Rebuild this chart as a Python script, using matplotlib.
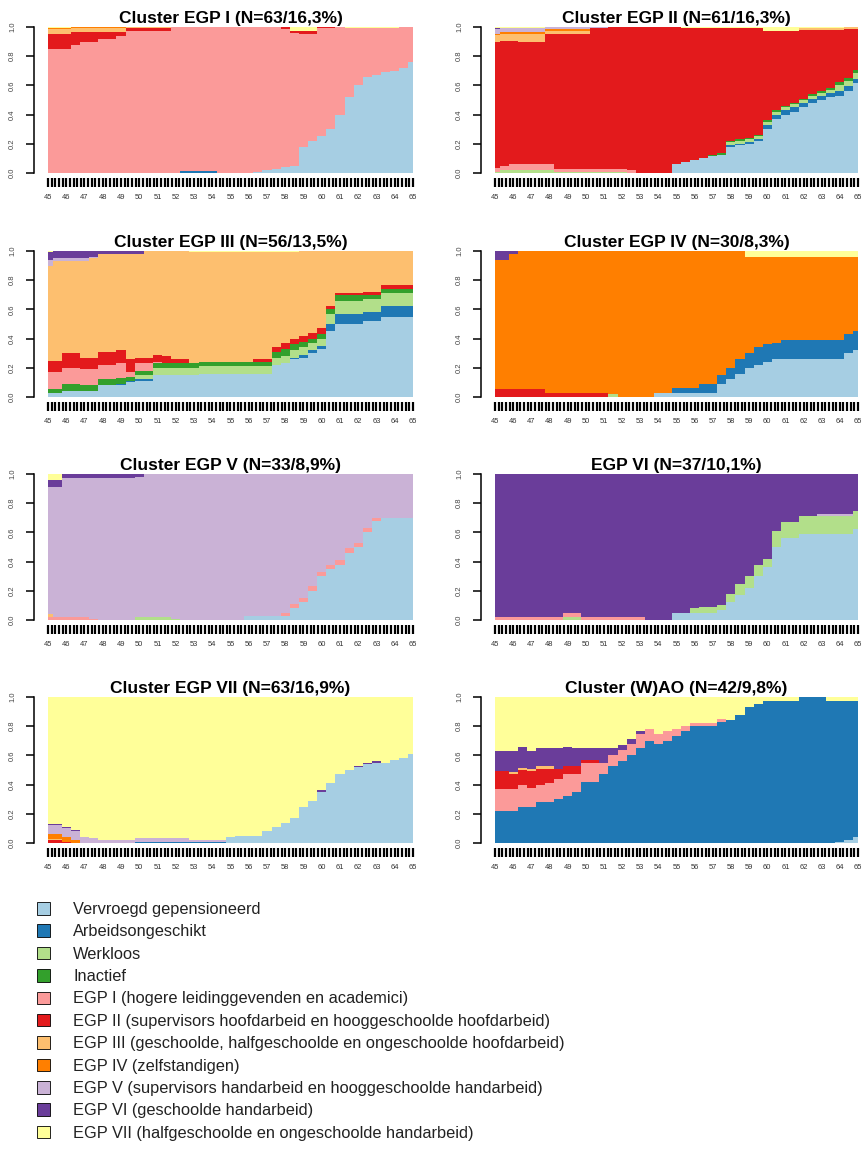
import numpy as np
import matplotlib.pyplot as plt
from matplotlib.patches import Patch

plt.rcParams["font.family"] = ["Liberation Sans", "DejaVu Sans"]

# half-year steps from age 45 to 65
ages = np.arange(45, 65.5, 0.5)
year_labels = [str(a) for a in range(45, 66)]

states = ["vv", "ao", "wk", "ina", "egp1", "egp2", "egp3", "egp4", "egp5", "egp6", "egp7"]
state_labels = [
    "Vervroegd gepensioneerd",
    "Arbeidsongeschikt",
    "Werkloos",
    "Inactief",
    "EGP I (hogere leidinggevenden en academici)",
    "EGP II (supervisors hoofdarbeid en hooggeschoolde hoofdarbeid)",
    "EGP III (geschoolde, halfgeschoolde en ongeschoolde hoofdarbeid)",
    "EGP IV (zelfstandigen)",
    "EGP V (supervisors handarbeid en hooggeschoolde handarbeid)",
    "EGP VI (geschoolde handarbeid)",
    "EGP VII (halfgeschoolde en ongeschoolde handarbeid)",
]
state_colors = ["#A6CEE3", "#1F78B4", "#B2DF8A", "#33A02C", "#FB9A99", "#E31A1C",
                "#FDBF6F", "#FF7F00", "#CAB2D6", "#6A3D9A", "#FFFF99"]

titles = [
    "Cluster EGP I (N=63/16,3%)",
    "Cluster EGP II (N=61/16,3%)",
    "Cluster EGP III (N=56/13,5%)",
    "Cluster EGP IV (N=30/8,3%)",
    "Cluster EGP V (N=33/8,9%)",
    "EGP VI (N=37/10,1%)",
    "Cluster EGP VII (N=63/16,9%)",
    "Cluster (W)AO (N=42/9,8%)",
]

# state shares per half year, states not listed are 0
cl_egp1 = {
    "vv": [0, 0, 0, 0, 0, 0, 0, 0, 0, 0,
           0, 0, 0, 0, 0, 0, 0, 0, 0, 0,
           0, 0, 0, .01, .02, .03, .04, .05, .18, .22,
           .25, .30, .40, .52, .60, .66, .67, .69, .70, .72,
           .76],
    "ao": [0, 0, 0, 0, 0, 0, 0, 0, 0, 0,
           0, 0, 0, 0, 0, .016, .016, .016, .016, 0,
           0, 0, 0, 0, 0, 0, 0, 0, 0, 0,
           0, 0, 0, 0, 0, 0, 0, 0, 0, 0,
           0],
    "egp1": [.85, .85, .85, .875, .895, .895, .915, .915, .935, .97,
             .97, .97, .97, .97, 1, .984, .984, .984, .984, 1,
             1, 1, 1, .99, .98, .97, .945, .91, .775, .735,
             .74, .69, .60, .47, .39, .33, .32, .30, .29, .28,
             .24],
    "egp2": [.10, .10, .10, .09, .07, .07, .05, .05, .03, .02,
             .02, .02, .02, .02, 0, 0, 0, 0, 0, 0,
             0, 0, 0, 0, 0, 0, .015, .015, .02, .02,
             .01, .01, 0, 0, 0, 0, 0, 0, 0, 0,
             0],
    "egp3": [.035, .035, .035, .025, .025, .025, .025, .025, .025, .01,
             .01, .01, .01, .01, 0, 0, 0, 0, 0, 0,
             0, 0, 0, 0, 0, 0, 0, 0, 0, 0,
             0, 0, 0, 0, 0, 0, 0, 0, 0, 0,
             0],
    "egp4": [.01, .01, .01, .01, .01, .01, .01, .01, .01, 0,
             0, 0, 0, 0, 0, 0, 0, 0, 0, 0,
             0, 0, 0, 0, 0, 0, 0, 0, 0, 0,
             0, 0, 0, 0, 0, 0, 0, 0, 0, 0,
             0],
    "egp7": [.005, .005, .005, 0, 0, 0, 0, 0, 0, 0,
             0, 0, 0, 0, 0, 0, 0, 0, 0, 0,
             0, 0, 0, 0, 0, 0, 0, .025, .025, .025,
             0, 0, 0, .01, .01, .01, .01, .01, .01, 0,
             0],
}

cl_egp2 = {
    "vv": [0, 0, 0, 0, 0, 0, 0, 0, 0, 0,
           0, 0, 0, 0, 0, 0, 0, 0, 0, 0,
           .065, .075, .09, .10, .115, .125, .18, .19, .20, .22,
           .30, .37, .40, .42, .45, .48, .50, .52, .53, .56,
           .61],
    "ao": [0, 0, 0, 0, 0, 0, 0, 0, 0, 0,
           0, 0, 0, 0, 0, 0, 0, 0, 0, 0,
           0, 0, 0, 0, 0, 0, .01, .01, .01, .01,
           .03, .03, .03, .03, .03, .03, .03, .03, .03, .03,
           .03],
    "wk": [.01, .02, .02, .02, .02, .02, .02, .01, .01, .01,
           .01, .01, .01, .01, .01, 0, 0, 0, 0, 0,
           0, 0, 0, 0, 0, 0, .02, .02, .02, .02,
           .02, .02, .02, .02, .02, .02, .02, .02, .04, .04,
           .04],
    "ina": [0, 0, 0, 0, 0, 0, 0, 0, 0, 0,
            0, 0, 0, 0, 0, 0, 0, 0, 0, 0,
            0, 0, 0, 0, .01, .01, .01, .01, .01, .01,
            .01, .01, .01, .01, .01, .01, .01, .01, .02, .02,
            .02],
    "egp1": [.025, .025, .04, .04, .04, .04, .04, .02, .02, .02,
             .02, .02, .02, .02, .02, .02, 0, 0, 0, 0,
             0, 0, 0, 0, 0, 0, 0, 0, 0, 0,
             0, 0, 0, 0, 0, 0, 0, 0, 0, 0,
             0],
    "egp2": [.86, .86, .845, .835, .835, .835, .89, .92, .92, .92,
             .92, .96, .96, .97, .97, .98, 1, 1, 1, 1,
             .935, .915, .90, .89, .865, .855, .77, .76, .75, .73,
             .61, .54, .51, .49, .47, .44, .42, .40, .36, .33,
             .28],
    "egp3": [.05, .05, .05, .06, .06, .06, .025, .025, .025, .025,
             .025, 0, 0, 0, 0, 0, 0, 0, 0, 0,
             0, 0, 0, 0, 0, 0, 0, 0, 0, 0,
             0, 0, 0, 0, .015, .015, .015, .015, .015, .015,
             .015],
    "egp4": [.01, .01, .01, .01, .01, .01, .01, .01, .01, .01,
             .01, 0, 0, 0, 0, 0, 0, 0, 0, 0,
             0, 0, 0, 0, 0, 0, 0, 0, 0, 0,
             0, 0, 0, 0, 0, 0, 0, 0, 0, 0,
             0],
    "egp5": [.03, .03, .03, .03, .03, .03, .015, .015, .015, .015,
             .015, .01, .01, 0, 0, 0, 0, 0, 0, 0,
             0, 0, 0, 0, 0, 0, 0, 0, 0, 0,
             0, 0, 0, 0, 0, 0, 0, 0, 0, 0,
             0],
    "egp6": [.01, 0, 0, 0, 0, 0, 0, 0, 0, 0,
             0, 0, 0, 0, 0, 0, 0, 0, 0, 0,
             0, 0, 0, 0, 0, 0, 0, 0, 0, 0,
             0, 0, 0, 0, 0, 0, 0, 0, 0, 0,
             0],
    "egp7": [.005, .005, .005, .005, .005, .005, 0, 0, 0, 0,
             0, 0, 0, 0, 0, 0, 0, 0, 0, 0,
             0, .01, .01, .01, .01, .01, .01, .01, .01, .01,
             .03, .03, .03, .03, .005, .005, .005, .005, .005, 0,
             0],
}

cl_egp3 = {
    "vv": [.03, .03, .04, .04, .04, .04, .08, .08, .08, .10,
           .11, .11, .15, .15, .15, .15, .15, .16, .16, .16,
           .16, .16, .16, .16, .16, .22, .23, .26, .27, .30,
           .33, .45, .50, .50, .50, .52, .52, .55, .55, .55,
           .55],
    "ao": [0, 0, 0, 0, 0, 0, 0, 0, .01, .01,
           .01, .01, 0, 0, 0, 0, 0, 0, 0, 0,
           0, 0, 0, 0, 0, 0, 0, .01, .02, .02,
           .02, .05, .07, .07, .07, .06, .06, .07, .07, .07,
           .07],
    "wk": [0, 0, 0, 0, 0, 0, 0, 0, 0, 0,
           .03, .03, .05, .05, .05, .05, .05, .05, .05, .05,
           .05, .05, .05, .05, .05, .05, .05, .05, .05, .05,
           .05, .07, .09, .09, .09, .09, .09, .09, .09, .09,
           .09],
    "ina": [.025, .025, .05, .05, .04, .04, .04, .04, .04, .03,
            .03, .03, .03, .03, .03, .03, .03, .03, .03, .03,
            .03, .03, .03, .03, .03, .04, .05, .04, .04, .03,
            .03, .03, .04, .04, .04, .03, .03, .03, .03, .03,
            .03],
    "egp1": [.115, .115, .11, .11, .11, .11, .10, .10, .10, .03,
             .05, .05, .01, 0, 0, 0, 0, 0, 0, 0,
             0, 0, 0, 0, 0, 0, 0, 0, 0, 0,
             0, 0, 0, 0, 0, 0, 0, 0, 0, 0,
             0],
    "egp2": [.08, .08, .10, .10, .08, .08, .09, .09, .09, .09,
             .04, .04, .05, .05, .03, .03, 0, 0, 0, 0,
             0, 0, 0, .02, .02, .03, .04, .04, .04, .04,
             .04, .02, .01, .01, .01, .02, .02, .03, .03, .03,
             .03],
    "egp3": [.65, .68, .63, .63, .66, .68, .67, .67, .66, .72,
             .71, .73, .71, .72, .74, .74, .76, .75, .75, .75,
             .75, .75, .75, .73, .73, .65, .62, .59, .58, .56,
             .53, .38, .29, .29, .29, .28, .28, .23, .23, .23,
             .23],
    "egp5": [.04, .02, .02, .02, .02, .01, 0, 0, 0, 0,
             0, 0, 0, 0, 0, 0, 0, 0, 0, 0,
             0, 0, 0, 0, 0, 0, 0, 0, 0, 0,
             0, 0, 0, 0, 0, 0, 0, 0, 0, 0,
             0],
    "egp6": [.05, .05, .05, .05, .05, .04, .02, .02, .02, .02,
             .02, 0, 0, 0, 0, 0, 0, 0, 0, 0,
             0, 0, 0, 0, 0, 0, 0, 0, 0, 0,
             0, 0, 0, 0, 0, 0, 0, 0, 0, 0,
             0],
    "egp7": [.01, 0, 0, 0, 0, 0, 0, 0, 0, 0,
             0, 0, 0, 0, 0, 0, .01, .01, .01, .01,
             .01, .01, .01, .01, .01, .01, .01, .01, 0, 0,
             0, 0, 0, 0, 0, 0, 0, 0, 0, 0,
             0],
}

cl_egp4 = {
    "vv": [0, 0, 0, 0, 0, 0, 0, 0, 0, 0,
           0, 0, 0, 0, 0, 0, 0, 0, .03, .03,
           .03, .03, .03, .03, .03, .09, .12, .16, .20, .22,
           .24, .26, .26, .26, .26, .26, .26, .26, .26, .30,
           .32],
    "ao": [0, 0, 0, 0, 0, 0, 0, 0, 0, 0,
           0, 0, 0, 0, 0, 0, 0, 0, 0, 0,
           .035, .035, .035, .06, .06, .06, .08, .10, .10, .12,
           .12, .11, .13, .13, .13, .13, .13, .13, .13, .13,
           .13],
    "wk": [0, 0, 0, 0, 0, 0, 0, 0, 0, 0,
           0, 0, 0, .02, 0, 0, 0, 0, 0, 0,
           0, 0, 0, 0, 0, 0, 0, 0, 0, 0,
           0, 0, 0, 0, 0, 0, 0, 0, 0, 0,
           0],
    "egp2": [.055, .055, .055, .055, .055, .055, .03, .03, .03, .03,
             .03, .03, .03, 0, 0, 0, 0, 0, 0, 0,
             0, 0, 0, 0, 0, 0, 0, 0, 0, 0,
             0, 0, 0, 0, 0, 0, 0, 0, 0, 0,
             0],
    "egp4": [.885, .885, .925, .945, .945, .945, .97, .97, .97, .97,
             .97, .97, .97, .98, 1, 1, 1, 1, .97, .97,
             .935, .935, .935, .91, .91, .85, .80, .74, .66, .62,
             .60, .59, .57, .57, .57, .57, .57, .57, .57, .53,
             .51],
    "egp6": [.06, .06, .02, 0, 0, 0, 0, 0, 0, 0,
             0, 0, 0, 0, 0, 0, 0, 0, 0, 0,
             0, 0, 0, 0, 0, 0, 0, 0, 0, 0,
             0, 0, 0, 0, 0, 0, 0, 0, 0, 0,
             0],
    "egp7": [0, 0, 0, 0, 0, 0, 0, 0, 0, 0,
             0, 0, 0, 0, 0, 0, 0, 0, 0, 0,
             0, 0, 0, 0, 0, 0, 0, 0, .04, .04,
             .04, .04, .04, .04, .04, .04, .04, .04, .04, .04,
             .04],
}

cl_egp5 = {
    "vv": [0, 0, 0, 0, 0, 0, 0, 0, 0, 0,
           0, 0, 0, 0, 0, 0, 0, 0, 0, 0,
           0, 0, .03, .03, .03, .03, .03, .08, .12, .20,
           .30, .35, .38, .46, .50, .60, .68, .70, .70, .70,
           .70],
    "wk": [0, 0, 0, 0, 0, 0, 0, 0, 0, 0,
           .02, .02, .02, .02, .01, 0, 0, 0, 0, 0,
           0, 0, 0, 0, 0, 0, 0, 0, 0, 0,
           0, 0, 0, 0, 0, 0, 0, 0, 0, 0,
           0],
    "egp1": [.02, .02, .02, .02, .02, .01, 0, 0, 0, 0,
             0, 0, 0, 0, 0, 0, 0, 0, 0, 0,
             0, 0, 0, 0, 0, 0, .02, .03, .03, .03,
             .03, .03, .03, .03, .03, .03, .02, 0, 0, 0,
             0],
    "egp3": [.02, 0, 0, 0, 0, 0, 0, 0, 0, 0,
             0, 0, 0, 0, 0, 0, 0, 0, 0, 0,
             0, 0, 0, 0, 0, 0, 0, 0, 0, 0,
             0, 0, 0, 0, 0, 0, 0, 0, 0, 0,
             0],
    "egp5": [.87, .89, .95, .95, .95, .96, .97, .97, .97, .97,
             .96, .98, .98, .98, .99, 1, 1, 1, 1, 1,
             1, 1, .97, .97, .97, .97, .95, .89, .85, .77,
             .67, .62, .59, .51, .47, .37, .30, .30, .30, .30,
             .30],
    "egp6": [.05, .05, .03, .03, .03, .03, .03, .03, .03, .03,
             .02, 0, 0, 0, 0, 0, 0, 0, 0, 0,
             0, 0, 0, 0, 0, 0, 0, 0, 0, 0,
             0, 0, 0, 0, 0, 0, 0, 0, 0, 0,
             0],
    "egp7": [.04, .04, 0, 0, 0, 0, 0, 0, 0, 0,
             0, 0, 0, 0, 0, 0, 0, 0, 0, 0,
             0, 0, 0, 0, 0, 0, 0, 0, 0, 0,
             0, 0, 0, 0, 0, 0, 0, 0, 0, 0,
             0],
}

cl_egp6 = {
    "vv": [0, 0, 0, 0, 0, 0, 0, 0, 0, 0,
           0, 0, 0, 0, 0, 0, 0, 0, 0, 0,
           .05, .05, .05, .05, .05, .07, .12, .17, .22, .30,
           .36, .50, .56, .56, .59, .59, .59, .59, .59, .59,
           .62],
    "wk": [0, 0, 0, 0, 0, 0, 0, 0, .02, .02,
           0, 0, 0, 0, 0, 0, 0, 0, 0, 0,
           0, 0, .03, .04, .04, .03, .06, .08, .08, .08,
           .06, .11, .11, .11, .12, .12, .12, .12, .12, .12,
           .13],
    "egp1": [.02, .02, .02, .02, .02, .02, .02, .02, .03, .03,
             .02, .02, .02, .02, .02, .02, .02, 0, 0, 0,
             0, 0, 0, 0, 0, 0, 0, 0, 0, 0,
             0, 0, 0, 0, 0, 0, 0, 0, 0, 0,
             0],
    "egp5": [0, 0, 0, 0, 0, 0, 0, 0, 0, 0,
             0, 0, 0, 0, 0, 0, 0, 0, 0, 0,
             0, 0, 0, 0, 0, 0, 0, 0, 0, 0,
             0, 0, 0, 0, 0, 0, .015, .015, .015, .015,
             0],
    "egp6": [.98, .98, .98, .98, .98, .98, .98, .98, .95, .95,
             .98, .98, .98, .98, .98, .98, .98, 1, 1, 1,
             .95, .95, .92, .91, .91, .90, .82, .75, .70, .62,
             .58, .39, .33, .33, .29, .29, .275, .275, .275, .275,
             .25],
}

cl_egp7 = {
    "vv": [0, 0, 0, 0, 0, 0, 0, 0, 0, 0,
           0, 0, 0, 0, 0, 0, 0, 0, 0, 0,
           .04, .05, .05, .05, .08, .11, .14, .17, .25, .29,
           .35, .41, .47, .50, .52, .54, .55, .55, .57, .58,
           .61],
    "ao": [0, 0, 0, 0, 0, 0, 0, 0, 0, 0,
           .01, .01, .01, .01, .01, .01, .01, .01, .01, .01,
           0, 0, 0, 0, 0, 0, 0, 0, 0, 0,
           0, 0, 0, 0, 0, 0, 0, 0, 0, 0,
           0],
    "egp2": [.02, .02, .01, 0, 0, 0, 0, 0, 0, 0,
             0, 0, 0, 0, 0, 0, 0, 0, 0, 0,
             0, 0, 0, 0, 0, 0, 0, 0, 0, 0,
             0, 0, 0, 0, 0, 0, 0, 0, 0, 0,
             0],
    "egp3": [.01, .01, 0, 0, 0, 0, 0, 0, 0, 0,
             0, 0, 0, 0, 0, 0, 0, 0, 0, 0,
             0, 0, 0, 0, 0, 0, 0, 0, 0, 0,
             0, 0, 0, 0, 0, 0, 0, 0, 0, 0,
             0],
    "egp4": [.03, .03, .03, .02, 0, 0, 0, 0, 0, 0,
             0, 0, 0, 0, 0, 0, 0, 0, 0, 0,
             0, 0, 0, 0, 0, 0, 0, 0, 0, 0,
             0, 0, 0, 0, 0, 0, 0, 0, 0, 0,
             0],
    "egp5": [.06, .06, .06, .06, .04, .035, .02, .02, .02, .02,
             .025, .025, .025, .025, .025, .025, .01, .01, .01, .01,
             0, 0, 0, 0, 0, 0, 0, 0, 0, 0,
             0, 0, 0, 0, 0, 0, 0, 0, 0, 0,
             0],
    "egp6": [.01, .01, .01, .01, 0, 0, 0, 0, 0, 0,
             0, 0, 0, 0, 0, 0, 0, 0, 0, 0,
             0, 0, 0, 0, 0, 0, 0, 0, 0, 0,
             .01, 0, 0, 0, .01, .01, .01, 0, 0, 0,
             0],
    "egp7": [.87, .87, .89, .91, .96, .965, .98, .98, .98, .98,
             .965, .965, .965, .965, .965, .965, .98, .98, .98, .98,
             .96, .95, .95, .95, .92, .89, .86, .83, .75, .71,
             .64, .59, .53, .50, .47, .45, .44, .45, .43, .42,
             .39],
}

cl_wao = {
    "vv": [0, 0, 0, 0, 0, 0, 0, 0, 0, 0,
           0, 0, 0, 0, 0, 0, 0, 0, 0, 0,
           0, 0, 0, 0, 0, 0, 0, 0, 0, 0,
           0, 0, 0, 0, 0, 0, 0, 0, .01, .02,
           .04],
    "ao": [.22, .22, .22, .25, .25, .28, .28, .30, .32, .35,
           .42, .42, .47, .53, .56, .60, .65, .70, .68, .70,
           .73, .77, .80, .80, .80, .83, .84, .88, .93, .95,
           .97, .97, .97, .97, 1, 1, 1, .97, .96, .95,
           .93],
    "egp1": [.15, .15, .15, .15, .13, .12, .13, .14, .15, .12,
             .13, .13, .08, .07, .08, .08, .10, .08, .07, .07,
             .05, .03, .02, .02, .02, .02, 0, 0, 0, 0,
             0, 0, 0, 0, 0, 0, 0, 0, 0, 0,
             0],
    "egp2": [.12, .12, .10, .10, .11, .11, .10, .07, .06, .06,
             .02, .02, 0, 0, 0, 0, 0, 0, 0, 0,
             0, 0, 0, 0, 0, 0, 0, 0, 0, 0,
             0, 0, 0, 0, 0, 0, 0, 0, 0, 0,
             0],
    "egp3": [0, 0, .015, .015, .02, .02, .02, 0, 0, 0,
             0, 0, 0, 0, 0, 0, 0, 0, 0, 0,
             0, 0, 0, 0, 0, 0, 0, 0, 0, 0,
             0, 0, 0, 0, 0, 0, 0, 0, 0, 0,
             0],
    "egp6": [.14, .14, .145, .145, .12, .12, .12, .14, .13, .12,
             .08, .08, .10, .05, .03, .03, .02, 0, 0, 0,
             0, 0, 0, 0, 0, 0, 0, 0, 0, 0,
             0, 0, 0, 0, 0, 0, 0, 0, 0, 0,
             0],
    "egp7": [.37, .37, .37, .34, .37, .35, .35, .35, .34, .35,
             .35, .35, .35, .35, .33, .29, .23, .22, .25, .23,
             .22, .20, .18, .18, .18, .15, .16, .12, .07, .05,
             .03, .03, .03, .03, 0, 0, 0, .03, .03, .03,
             .03],
}

clusters = [cl_egp1, cl_egp2, cl_egp3, cl_egp4, cl_egp5, cl_egp6, cl_egp7, cl_wao]

W, H = 866, 1151
fig = plt.figure(figsize=(W / 100, H / 100), dpi=100)

lefts = [48, 495]
widths = [365, 363]
bottoms = [173, 397, 620, 843]
ax_h = 146

for i, (title, data) in enumerate(zip(titles, clusters)):
    row, col = divmod(i, 2)
    ax = fig.add_axes([lefts[col] / W, 1 - bottoms[row] / H, widths[col] / W, ax_h / H])

    for key, vals in data.items():
        assert len(vals) == len(ages), (title, key, len(vals))
    stack = np.array([data.get(s, np.zeros(len(ages))) for s in states], dtype=float)
    stack = stack / stack.sum(axis=0)

    ax.stackplot(ages, stack, colors=state_colors, step="mid",
                 linewidth=0, antialiased=False)

    ax.set_xlim(45, 65)
    ax.set_ylim(0, 1)
    for side in ["top", "right", "bottom"]:
        ax.spines[side].set_visible(False)
    ax.spines["bottom"].set_position(("outward", 3.6))
    ax.spines["left"].set_position(("outward", 10))
    ax.spines["left"].set_bounds(0, 1)
    ax.spines["left"].set_linewidth(1.1)

    ax.set_yticks(np.arange(0, 1.01, 0.2))
    ax.set_yticklabels([f"{v:.1f}" for v in np.arange(0, 1.01, 0.2)],
                       rotation=90, va="center", fontsize=5.5, color="#444444")
    ax.tick_params(axis="y", length=5.5, width=1.1, pad=7.5)

    ax.set_xticks(range(45, 66))
    ax.set_xticklabels(year_labels, fontsize=5.4, color="#333333")
    ax.set_xticks(np.arange(45, 65.01, 0.2), minor=True)
    ax.tick_params(axis="x", which="both", length=6.5, width=1.6, pad=5)

    ax.set_title(title, fontsize=12.5, fontweight="bold", pad=3)

handles = [Patch(facecolor=c, edgecolor="black", linewidth=0.6) for c in state_colors]
fig.legend(handles, state_labels, loc="upper left", bbox_to_anchor=(37 / W, 1 - 902 / H),
           frameon=False, fontsize=11.8, handlelength=0.8, handleheight=0.8,
           handletextpad=1.4, labelspacing=0.45, borderaxespad=0, borderpad=0,
           labelcolor="#222222")

fig.savefig("out.png", dpi=100)
